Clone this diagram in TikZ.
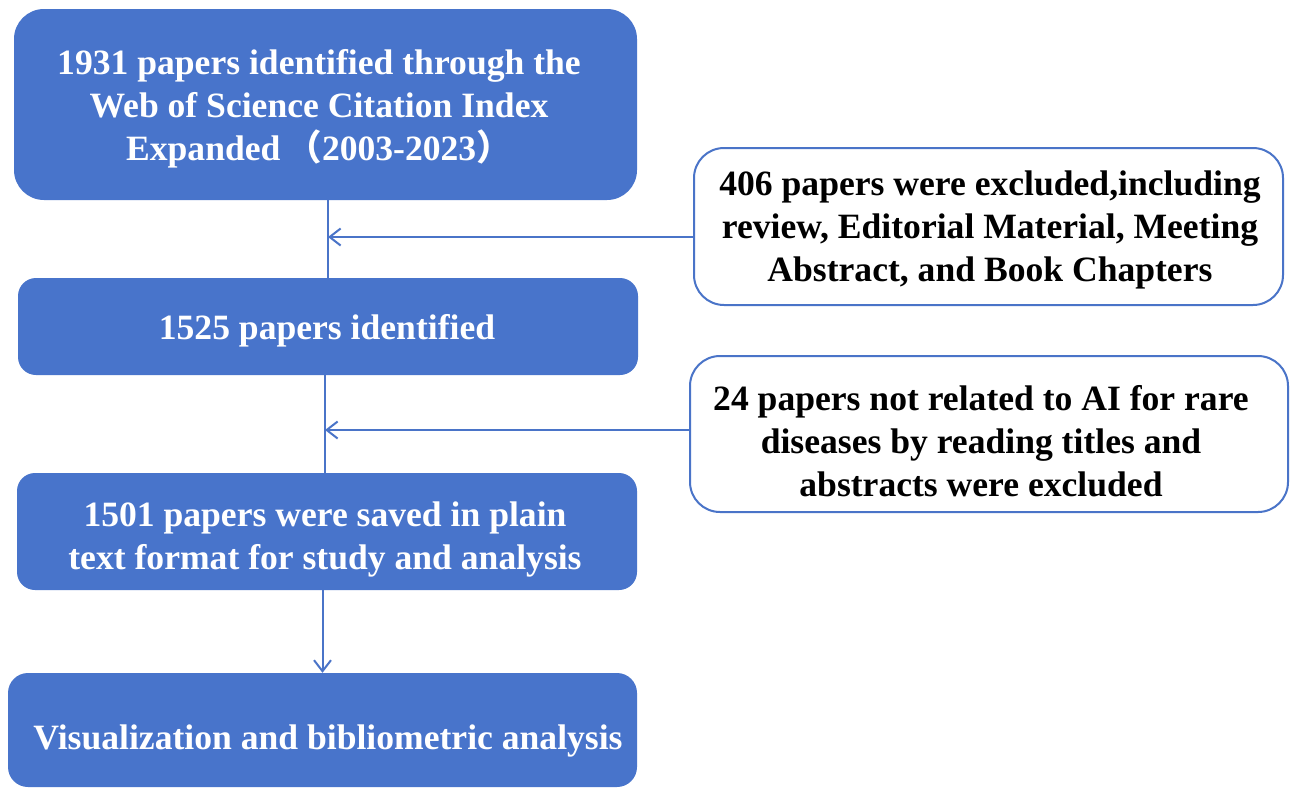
\documentclass[tikz,border=0pt]{standalone}
\usepackage{fontspec}
\setmainfont{Liberation Serif}
\newfontfamily\cjk{Noto Sans CJK SC}
\usetikzlibrary{arrows.meta}
\definecolor{bluefill}{HTML}{4874CB}
\definecolor{blueline}{HTML}{4A74C8}
\begin{document}
\begin{tikzpicture}[x=1pt,y=-1pt,
  txt/.style={font=\bfseries\fontsize{35.6}{43}\selectfont, align=center, inner sep=0pt},
  wtxt/.style={txt, text=white},
  ktxt/.style={txt, text=black},
  bluebox/.style={fill=bluefill, draw=none},
  whitebox/.style={fill=white, draw=blueline, line width=2pt, rounded corners=30pt},
  conn/.style={draw=blueline, line width=2pt},
  arr/.style={conn, -{Straight Barb[length=11pt,width=17pt,line width=2pt]}}
]
\useasboundingbox (0,0) rectangle (1290,788);
\fill[white] (0,0) rectangle (1290,788);

\node[bluebox, rounded corners=30pt, minimum width=623pt, minimum height=191pt] (b1) at (325.5,104.5) {};
\node[bluebox, rounded corners=18pt, minimum width=620pt, minimum height=97pt] (b2) at (328,326.5) {};
\node[bluebox, rounded corners=18pt, minimum width=620pt, minimum height=117pt] (b3) at (327,531.5) {};
\node[bluebox, rounded corners=20pt, minimum width=629pt, minimum height=114pt] (b4) at (322.5,730) {};
\node[whitebox, minimum width=589pt, minimum height=157pt] (ea) at (988.5,226.5) {};
\node[whitebox, minimum width=598pt, minimum height=156pt] (eb) at (989,434) {};

\node[wtxt] (t1) at (319,108.5)
  {1931 papers identified through the\\Web of Science Citation Index\\Expanded\,{\cjk （}2003-2023{\cjk ）}};
\node[wtxt] (t2) at (327,330.5) {1525 papers identified};
\node[wtxt] (t3) at (325,539)
  {1501 papers were saved in plain\\text format for study and analysis};
\node[wtxt] (t4) at (328,741) {Visualization and bibliometric analysis};
\node[ktxt] (ta) at (990,229.5)
  {406 papers were excluded,including\\review, Editorial Material, Meeting\\Abstract, and Book Chapters};
\node[ktxt] (tb) at (981,441)
  {24 papers not related to AI for rare\\diseases by reading titles and\\abstracts were excluded};

\coordinate (j1) at (328,237);
\coordinate (j2) at (325,430);

\draw[conn] (b1.south -| j1) -- (b2.north -| j1);
\draw[arr] (ea.west |- j1) -- (j1);
\draw[conn] (b2.south -| j2) -- (b3.north -| j2);
\draw[arr] (eb.west |- j2) -- (j2);
\draw[arr] (b4.north |- b3.south) -- (b4.north);
\end{tikzpicture}
\end{document}
